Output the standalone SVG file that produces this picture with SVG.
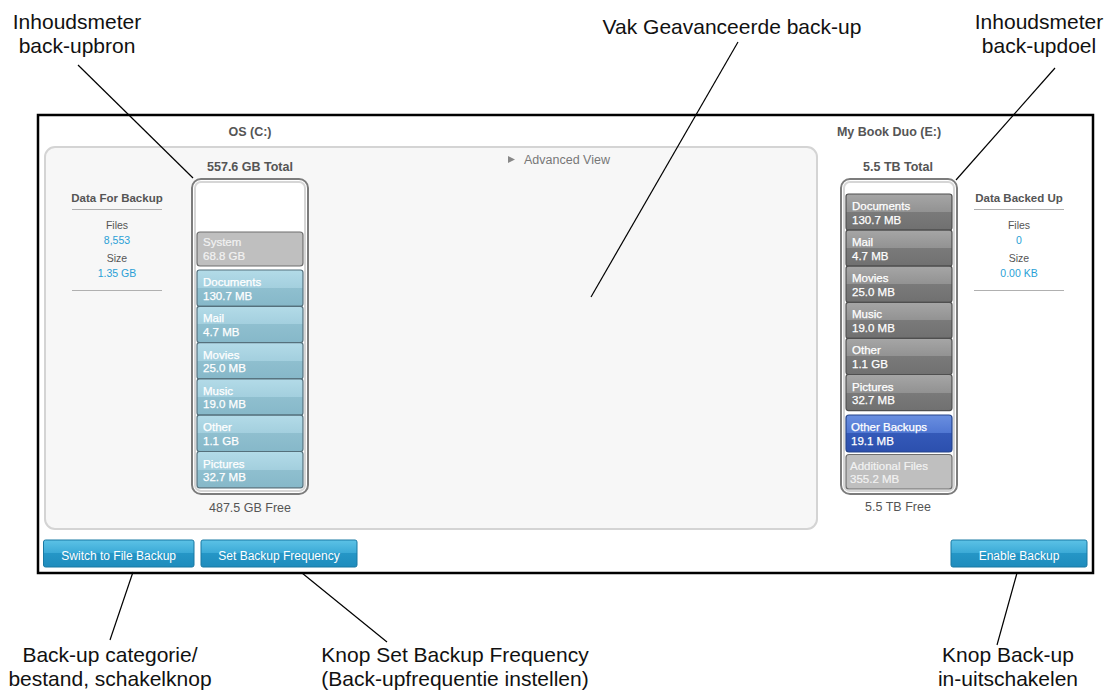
<svg xmlns="http://www.w3.org/2000/svg" width="1111" height="694" viewBox="0 0 1111 694">
<defs>
<linearGradient id="gBlue" x1="0" y1="0" x2="0" y2="1">
<stop offset="0" stop-color="#b3dbe8"/><stop offset="0.5" stop-color="#a3cfde"/><stop offset="0.5" stop-color="#8fbfcf"/><stop offset="1" stop-color="#86b8c9"/>
</linearGradient>
<linearGradient id="gGray" x1="0" y1="0" x2="0" y2="1">
<stop offset="0" stop-color="#a6a6a6"/><stop offset="0.5" stop-color="#929292"/><stop offset="0.5" stop-color="#7a7a7a"/><stop offset="1" stop-color="#707070"/>
</linearGradient>
<linearGradient id="gRoyal" x1="0" y1="0" x2="0" y2="1">
<stop offset="0" stop-color="#6a8fe0"/><stop offset="0.5" stop-color="#4f76d2"/><stop offset="0.5" stop-color="#3459b8"/><stop offset="1" stop-color="#2c50ae"/>
</linearGradient>
<linearGradient id="gBtn" x1="0" y1="0" x2="0" y2="1">
<stop offset="0" stop-color="#5cc2e6"/><stop offset="0.5" stop-color="#3aa9d6"/><stop offset="0.5" stop-color="#2596c6"/><stop offset="1" stop-color="#1f8cbd"/>
</linearGradient>
<style>
.ui{font-family:"Liberation Sans",Arial,sans-serif}
.hd{font-family:"Liberation Sans",Arial,sans-serif;font-size:12.5px;font-weight:bold;fill:#555}
.free{font-family:"Liberation Sans",Arial,sans-serif;font-size:12.5px;fill:#555}
.dh{font-family:"Liberation Sans",Arial,sans-serif;font-size:11.5px;font-weight:bold;fill:#555}
.dl{font-family:"Liberation Sans",Arial,sans-serif;font-size:10.5px;fill:#555}
.dv{font-family:"Liberation Sans",Arial,sans-serif;font-size:10.5px;fill:#2a9fd6}
.sep{stroke:#b0b0b0;stroke-width:1}
.seg{font-family:"Liberation Sans",Arial,sans-serif;font-size:11.5px;fill:#fff;stroke:#fff;stroke-width:0.25}
.segl{font-family:"Liberation Sans",Arial,sans-serif;font-size:11.5px;fill:#f2f2f2;stroke:#f2f2f2;stroke-width:0.2}
.blue{fill:url(#gBlue);stroke:#55707c;stroke-width:1.2}
.gray{fill:url(#gGray);stroke:#4f4f4f;stroke-width:1.2}
.royal{fill:url(#gRoyal);stroke:#27458a;stroke-width:1.2}
.light{fill:#bfbfbf;stroke:#6e6e6e;stroke-width:1.2}
.btn{fill:url(#gBtn);stroke:#1979a3;stroke-width:1}
.btnt{font-family:"Liberation Sans",Arial,sans-serif;font-size:12px;fill:#fff}
.lbl{font-family:"Liberation Sans",Arial,Helvetica,sans-serif;font-size:21px;fill:#111}
.ann{stroke:#000;stroke-width:1.2;fill:none}
.gauge{fill:#fff;stroke:#7c7c7c;stroke-width:2}
.gaugein{fill:none;stroke:#d6d6d6;stroke-width:2}
</style>
</defs>
<rect width="1111" height="694" fill="#fff"/>

<g id="frame">
<rect x="38" y="115" width="1055" height="458" fill="#fff" stroke="#000" stroke-width="2.5"/>
</g>

<g id="advanced-panel">
<rect x="45" y="147" width="772" height="382" rx="10" fill="#f7f7f7" stroke="#d4d4d4" stroke-width="2"/>
<polygon points="508,156 515,159.5 508,163" fill="#888"/>
<text class="ui" x="524" y="163.5" font-size="12.5" fill="#777">Advanced View</text>
</g>

<g id="source-header">
<text class="hd" x="250" y="135.5" text-anchor="middle">OS (C:)</text>
<text class="hd" x="250" y="170.5" text-anchor="middle">557.6 GB Total</text>
<text class="free" x="250" y="511.5" text-anchor="middle">487.5 GB Free</text>
</g>

<g id="data-for-backup">
<text class="dh" x="117" y="202" text-anchor="middle">Data For Backup</text>
<line class="sep" x1="72" y1="209.5" x2="162" y2="209.5"/>
<text class="dl" x="117" y="229" text-anchor="middle">Files</text>
<text class="dv" x="117" y="243.5" text-anchor="middle">8,553</text>
<text class="dl" x="117" y="262" text-anchor="middle">Size</text>
<text class="dv" x="117" y="277" text-anchor="middle">1.35 GB</text>
<line class="sep" x1="72" y1="290.5" x2="162" y2="290.5"/>
</g>

<g id="source-gauge">
<rect class="gauge" x="192" y="179" width="116" height="315" rx="9"/>
<rect class="gaugein" x="195" y="182" width="110" height="309" rx="6"/>
<rect class="light" x="197" y="232" width="106" height="34" rx="3"/>
<text class="segl" x="203" y="246">System</text>
<text class="segl" x="203" y="259.5">68.8 GB</text>
<rect class="blue" x="197" y="270" width="106" height="36.3" rx="2.5"/>
<text class="seg" x="203" y="286">Documents</text>
<text class="seg" x="203" y="299.5">130.7 MB</text>
<rect class="blue" x="197" y="306.3" width="106" height="36.3" rx="2.5"/>
<text class="seg" x="203" y="322.3">Mail</text>
<text class="seg" x="203" y="335.8">4.7 MB</text>
<rect class="blue" x="197" y="342.6" width="106" height="36.3" rx="2.5"/>
<text class="seg" x="203" y="358.6">Movies</text>
<text class="seg" x="203" y="372.1">25.0 MB</text>
<rect class="blue" x="197" y="378.9" width="106" height="36.3" rx="2.5"/>
<text class="seg" x="203" y="394.9">Music</text>
<text class="seg" x="203" y="408.4">19.0 MB</text>
<rect class="blue" x="197" y="415.2" width="106" height="36.3" rx="2.5"/>
<text class="seg" x="203" y="431.2">Other</text>
<text class="seg" x="203" y="444.7">1.1 GB</text>
<rect class="blue" x="197" y="451.5" width="106" height="36.3" rx="2.5"/>
<text class="seg" x="203" y="467.5">Pictures</text>
<text class="seg" x="203" y="481">32.7 MB</text>
</g>

<g id="target-header">
<text class="hd" x="889" y="135.5" text-anchor="middle">My Book Duo (E:)</text>
<text class="hd" x="898" y="170.5" text-anchor="middle">5.5 TB Total</text>
<text class="free" x="898" y="510.5" text-anchor="middle">5.5 TB Free</text>
</g>

<g id="data-backed-up">
<text class="dh" x="1019" y="202" text-anchor="middle">Data Backed Up</text>
<line class="sep" x1="974" y1="209.5" x2="1064" y2="209.5"/>
<text class="dl" x="1019" y="229" text-anchor="middle">Files</text>
<text class="dv" x="1019" y="243.5" text-anchor="middle">0</text>
<text class="dl" x="1019" y="262" text-anchor="middle">Size</text>
<text class="dv" x="1019" y="277" text-anchor="middle">0.00 KB</text>
<line class="sep" x1="974" y1="290.5" x2="1064" y2="290.5"/>
</g>

<g id="target-gauge">
<rect class="gauge" x="841" y="179" width="116" height="315" rx="9"/>
<rect class="gaugein" x="844" y="182" width="110" height="309" rx="6"/>
<rect class="gray" x="846" y="194" width="106" height="36.1" rx="2.5"/>
<text class="seg" x="852" y="210">Documents</text>
<text class="seg" x="852" y="223.5">130.7 MB</text>
<rect class="gray" x="846" y="230.1" width="106" height="36.1" rx="2.5"/>
<text class="seg" x="852" y="246.1">Mail</text>
<text class="seg" x="852" y="259.6">4.7 MB</text>
<rect class="gray" x="846" y="266.2" width="106" height="36.1" rx="2.5"/>
<text class="seg" x="852" y="282.2">Movies</text>
<text class="seg" x="852" y="295.7">25.0 MB</text>
<rect class="gray" x="846" y="302.3" width="106" height="36.1" rx="2.5"/>
<text class="seg" x="852" y="318.3">Music</text>
<text class="seg" x="852" y="331.8">19.0 MB</text>
<rect class="gray" x="846" y="338.4" width="106" height="36.1" rx="2.5"/>
<text class="seg" x="852" y="354.4">Other</text>
<text class="seg" x="852" y="367.9">1.1 GB</text>
<rect class="gray" x="846" y="374.5" width="106" height="36.1" rx="2.5"/>
<text class="seg" x="852" y="390.5">Pictures</text>
<text class="seg" x="852" y="404">32.7 MB</text>
<rect class="royal" x="846" y="415" width="106" height="37" rx="3"/>
<text class="seg" x="851" y="431">Other Backups</text>
<text class="seg" x="851" y="444.5">19.1 MB</text>
<rect class="light" x="846" y="454.5" width="106" height="34.5" rx="3"/>
<text class="segl" x="850" y="469.5">Additional Files</text>
<text class="segl" x="850" y="483">355.2 MB</text>
</g>

<g id="btn-switch">
<rect class="btn" x="43.5" y="540" width="150.5" height="27" rx="2"/>
<text class="btnt" x="118.7" y="559.5" text-anchor="middle">Switch to File Backup</text>
</g>
<g id="btn-frequency">
<rect class="btn" x="201" y="540" width="156" height="27" rx="2"/>
<text class="btnt" x="279" y="559.5" text-anchor="middle">Set Backup Frequency</text>
</g>
<g id="btn-enable">
<rect class="btn" x="951" y="540" width="136" height="27" rx="2"/>
<text class="btnt" x="1019" y="559.5" text-anchor="middle">Enable Backup</text>
</g>

<g id="connectors">
<line class="ann" x1="78" y1="65" x2="193" y2="178"/>
<line class="ann" x1="738" y1="42" x2="591" y2="297"/>
<line class="ann" x1="1055" y1="68" x2="956" y2="180"/>
<line class="ann" x1="133" y1="572" x2="110" y2="640"/>
<line class="ann" x1="302" y1="573" x2="387" y2="642"/>
<line class="ann" x1="1017" y1="573" x2="997" y2="645"/>
</g>

<g id="label-source-meter">
<text class="lbl" x="77" y="29" text-anchor="middle">Inhoudsmeter</text>
<text class="lbl" x="77" y="52.5" text-anchor="middle">back-upbron</text>
</g>
<g id="label-advanced">
<text class="lbl" x="732" y="33.5" text-anchor="middle">Vak Geavanceerde back-up</text>
</g>
<g id="label-target-meter">
<text class="lbl" x="1039" y="29" text-anchor="middle">Inhoudsmeter</text>
<text class="lbl" x="1039" y="52.5" text-anchor="middle">back-updoel</text>
</g>
<g id="label-switch">
<text class="lbl" x="110" y="662" text-anchor="middle">Back-up categorie/</text>
<text class="lbl" x="110" y="685.5" text-anchor="middle">bestand, schakelknop</text>
</g>
<g id="label-frequency">
<text class="lbl" x="455" y="662" text-anchor="middle">Knop Set Backup Frequency</text>
<text class="lbl" x="455" y="685.5" text-anchor="middle">(Back-upfrequentie instellen)</text>
</g>
<g id="label-enable">
<text class="lbl" x="1008" y="662" text-anchor="middle">Knop Back-up</text>
<text class="lbl" x="1008" y="685.5" text-anchor="middle">in-uitschakelen</text>
</g>
</svg>
